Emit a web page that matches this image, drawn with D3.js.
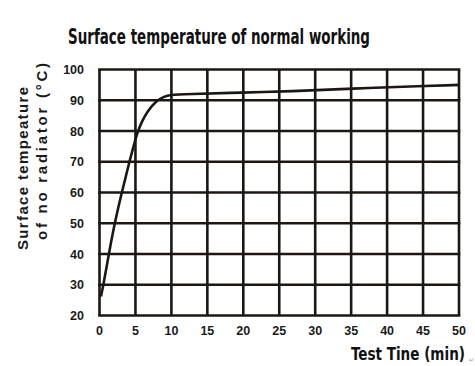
<!DOCTYPE html>
<html><head><meta charset="utf-8">
<script src="https://cdn.jsdelivr.net/npm/d3@7"></script>
<style>body{margin:0;background:#fff}svg{display:block}</style>
</head><body>
<svg id="c" width="475" height="366"></svg>
<script>
const title = "Surface temperature of normal working";
const yTitle1 = "Surface tempeature";
const yTitle2 = "of no radiator (°C)";
const xTitle = "Test Tine (min)";
const xTicks = [0,5,10,15,20,25,30,35,40,45,50];
const yTicks = [20,30,40,50,60,70,80,90,100];
const timeMin = [0.2,0.2,0.55,1.3,2.1,3.1,4.15,5.3,5.9,6.6,8.0,8.9,9.8,12,20,26.5,35,45,50,50];
const tempC   = [26.2,26.2,30,40,50,60,70,80,83,86.3,90,91.1,91.8,92.0,92.5,92.9,93.8,94.6,95,95];

const svg = d3.select("#c");
const m = {l:99.5, r:459, t:69.5, b:315.5};
const x = d3.scaleLinear().domain([0,50]).range([m.l,m.r]);
const y = d3.scaleLinear().domain([20,100]).range([m.b,m.t]);
const ink = "#1c1713";
const narrow = "Liberation Sans Narrow, DejaVu Sans Condensed, sans-serif";

// grid
svg.append("g").selectAll("line").data(xTicks).join("line")
  .attr("x1",d=>x(d)).attr("x2",d=>x(d)).attr("y1",m.t).attr("y2",m.b)
  .attr("stroke",ink).attr("stroke-width",2.6);
svg.append("g").selectAll("line").data(yTicks).join("line")
  .attr("y1",d=>y(d)).attr("y2",d=>y(d)).attr("x1",m.l-1.3).attr("x2",m.r+1.3)
  .attr("stroke",ink).attr("stroke-width",2.6);

// tick labels
svg.append("g").selectAll("text").data(yTicks).join("text")
  .attr("x",84).attr("y",d=>y(d)).attr("dy","0.36em").attr("text-anchor","end")
  .attr("font-family","Liberation Sans, Arial, sans-serif").attr("font-weight","bold")
  .attr("font-size",12.5).attr("fill","#1a1a1a").text(d=>d);
svg.append("g").selectAll("text").data(xTicks).join("text")
  .attr("x",d=>x(d)).attr("y",335).attr("text-anchor","middle")
  .attr("font-family","Liberation Sans, Arial, sans-serif").attr("font-weight","bold")
  .attr("font-size",12.5).attr("fill","#1a1a1a").text(d=>d);

// curve
const pts = timeMin.map((t,i)=>[t,tempC[i]]);
svg.append("path").datum(pts)
  .attr("d",d3.line().x(d=>x(d[0])).y(d=>y(d[1])).curve(d3.curveBasis))
  .attr("fill","none").attr("stroke",ink).attr("stroke-width",2.6);

// titles
svg.append("text").attr("x",68).attr("y",44)
  .attr("font-family",narrow).attr("font-weight","bold")
  .attr("font-size",22).attr("fill","#111")
  .attr("textLength",302).attr("lengthAdjust","spacingAndGlyphs").text(title);

svg.append("text").attr("x",351).attr("y",360)
  .attr("font-family",narrow).attr("font-weight","bold")
  .attr("font-size",18).attr("fill","#111")
  .attr("textLength",114).attr("lengthAdjust","spacingAndGlyphs").text(xTitle);
svg.append("text").attr("x",469).attr("y",362)
  .attr("font-family","DejaVu Sans, sans-serif").attr("font-size",6).attr("fill","#999").text("↵");

svg.append("text").attr("transform","translate(28,250) rotate(-90)")
  .attr("font-family","Liberation Sans, Arial, sans-serif").attr("font-weight","bold")
  .attr("font-size",15).attr("fill","#1a1a1a")
  .attr("textLength",163).attr("lengthAdjust","spacing").text(yTitle1);
svg.append("text").attr("transform","translate(47,240) rotate(-90)")
  .attr("font-family","Liberation Sans, Arial, sans-serif").attr("font-weight","bold")
  .attr("font-size",15).attr("fill","#1a1a1a")
  .attr("textLength",177).attr("lengthAdjust","spacing").text(yTitle2);
</script>
</body></html>
